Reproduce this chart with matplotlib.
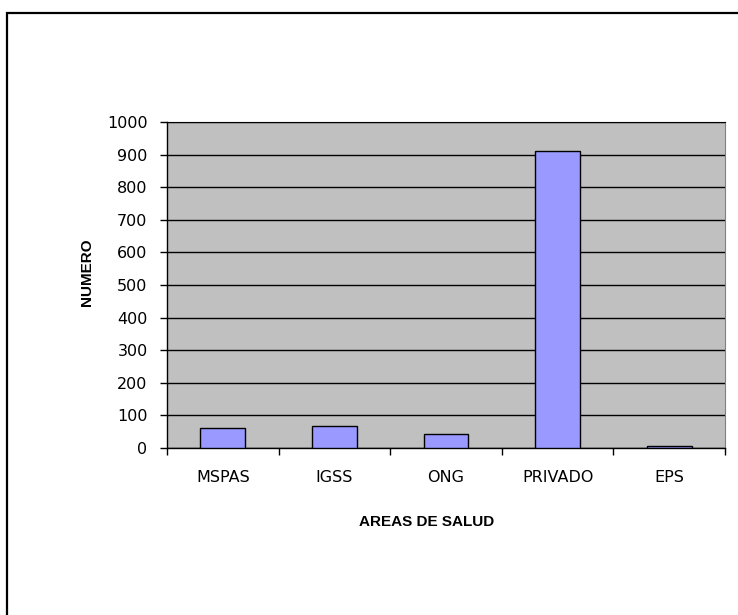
import matplotlib.pyplot as plt
from matplotlib.patches import Rectangle
import numpy as np

plt.rcParams['font.family'] = ['DejaVu Sans']

areas = ['MSPAS', 'IGSS', 'ONG', 'PRIVADO', 'EPS']
numero = [61, 68, 43, 912, 6]
y_ticks = [0, 100, 200, 300, 400, 500, 600, 700, 800, 900, 1000]

fig = plt.figure(figsize=(7.38, 6.15), dpi=100)
ax = fig.add_axes([0.2263, 0.2715, 0.7561, 0.5301])

# outer chart border (only left/top edges visible in the picture)
fig.patches.append(Rectangle((0.0095, -0.05), 1.2, 1.029, transform=fig.transFigure,
                             fill=False, edgecolor='black', linewidth=1.6))

x = np.arange(len(areas))
ax.set_facecolor('#c0c0c0')
ax.set_axisbelow(True)
ax.yaxis.grid(True, color='black', linewidth=1.0)
ax.bar(x, numero, width=0.4, color='#9999ff', edgecolor='black', linewidth=1.0, zorder=3)

ax.set_xlim(-0.5, len(areas) - 0.5)
ax.set_ylim(0, 1000)
ax.set_yticks(y_ticks)
ax.set_yticklabels([str(v) for v in y_ticks], fontsize=11.5)

# ticks between categories, labels at centres
ax.set_xticks(np.arange(-0.5, len(areas), 1.0))
ax.set_xticklabels([])
ax.set_xticks(x, minor=True)
ax.set_xticklabels(areas, minor=True, fontsize=11.5)
ax.tick_params(axis='x', which='minor', length=0, pad=16)
ax.tick_params(axis='x', which='major', direction='out', length=5, width=1)
ax.tick_params(axis='y', direction='out', length=5, width=1, pad=9)

for s in ['left', 'bottom']:
    ax.spines[s].set_color('black')
    ax.spines[s].set_linewidth(1.0)
ax.spines['top'].set_color('black')
ax.spines['right'].set_color('#808080')

ax.set_ylabel('NUMERO', fontsize=11, fontweight='bold', family='Liberation Sans')
ax.yaxis.set_label_coords(-0.13, 0.54)
ax.set_xlabel('AREAS DE SALUD', fontsize=11, fontweight='bold', family='Liberation Sans')
ax.xaxis.set_label_coords(0.466, -0.205)

plt.savefig('out.png', dpi=100)
